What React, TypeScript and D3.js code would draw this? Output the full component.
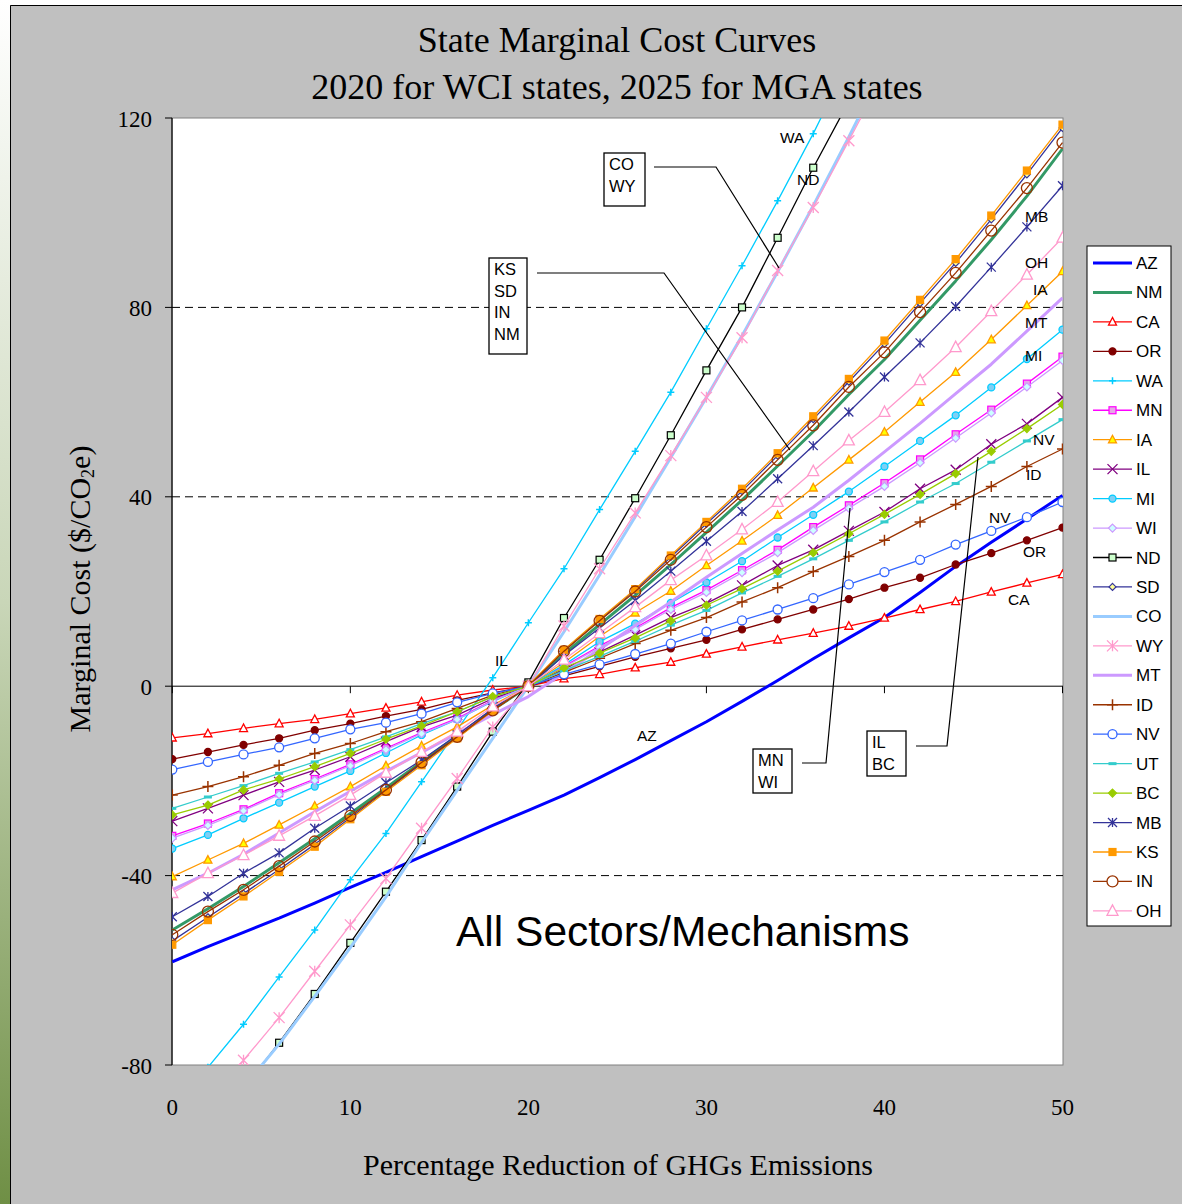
import React from "react";
import * as d3 from "d3";

// percentage reduction of GHG emissions (x categories)
const reduction = [0, 2, 4, 6, 8, 10, 12, 14, 16, 18, 20, 22, 24, 26, 28, 30, 32, 34, 36, 38, 40, 42, 44, 46, 48, 50];

// marginal cost by state, $/tCO2e (null = off the chart)
const AZ = [-58.2, -55, -52, -49, -45.8, -42.5, -39.3, -36, -32.7, -29.4, -26.2, -23, -19.3, -15.5, -11.5, -7.5, -3.2, 1.2, 5.8, 10.2, 14.5, 19.8, 25.3, 30.4, 35.3, 40.3];
const NM = [-51.5, -47, -42.3, -37.3, -32.2, -26.9, -21.5, -16, -10.5, -5, 0, 6.8, 13, 19.2, 25.7, 32.5, 39.3, 46.5, 53.8, 61.6, 69, 77.3, 85.6, 94.3, 103.5, 113.5];
const CA = [-10.9, -10, -8.9, -7.9, -7, -5.8, -4.6, -3.3, -1.9, -0.8, 0, 1.6, 2.5, 3.9, 5.1, 6.8, 8.3, 9.8, 11.2, 12.7, 14.4, 16.2, 17.9, 19.9, 21.8, 23.6];
const OR = [-15.4, -13.9, -12.4, -11, -9.3, -7.9, -6.3, -4.9, -3, -1.4, 0, 2.2, 4.2, 6.2, 8, 9.8, 12, 14.1, 16.2, 18.4, 20.8, 22.9, 25.7, 28.1, 30.8, 33.5];
const WA = [-90, -80.5, -71.4, -61.4, -51.5, -40.9, -31.1, -20.2, -9.3, 1.8, 13.4, 24.8, 37.3, 49.6, 62.1, 75.5, 88.8, 102.5, 116.7, 132, null, null, null, null, null, null];
const MN = [-31.6, -29, -26, -22.6, -19.6, -16.5, -13.1, -9.8, -6.8, -3, 0, 4.2, 8.5, 12.3, 16.6, 20.3, 24.5, 28.8, 33.6, 38.2, 42.9, 47.9, 53.2, 58.4, 63.9, 69.6];
const IA = [-40.2, -36.7, -33.2, -29.3, -25.3, -21.2, -16.8, -12.6, -8.6, -4, 0, 5, 10.5, 15.5, 20.1, 25.5, 30.7, 36.1, 41.9, 47.8, 53.7, 60, 66.3, 73.2, 80.4, 87.6];
const IL = [-28.5, -25.8, -23, -20.2, -17.7, -14.9, -11.7, -8.6, -6.1, -2.6, 0, 3.6, 7.2, 10.8, 14.5, 17.5, 21.3, 25.5, 28.8, 32.8, 36.8, 41.7, 45.7, 51.1, 55.4, 61];
const MI = [-34.3, -31.4, -27.9, -24.6, -21.2, -17.9, -14.1, -10.3, -7, -3.2, 0, 4.5, 9.4, 13.2, 17.6, 21.9, 26.4, 31.4, 36.2, 41.1, 46.4, 51.8, 57.2, 63.1, 69.1, 75.3];
const WI = [-32.1, -29.4, -26.3, -22.9, -19.9, -16.8, -13.4, -10, -7, -3.1, 0, 4, 8.2, 12, 16.2, 19.8, 24, 28.2, 32.9, 37.6, 42.2, 47.2, 52.4, 57.7, 63.2, 68.8];
const ND = [null, null, -85, -75.3, -65, -54.2, -43.4, -32.5, -21.2, -9.6, 0.8, 14.4, 26.7, 39.7, 53, 66.7, 80, 94.7, 109.5, 123.5, null, null, null, null, null, null];
const SD = [-53.8, -48.8, -43.8, -38.7, -33.4, -27.8, -22.1, -16.4, -10.9, -5.1, 0, 7.6, 14, 20.3, 27.3, 34.3, 41.2, 48.7, 56.4, 64.3, 72.3, 80.9, 89.4, 98.6, 108.1, 117.9];
const CO = [null, null, -84.7, -75.6, -65.5, -55.2, -44.5, -33, -22, -11, 0, 11.5, 23.5, 35.8, 48.3, 61, 74, 87.5, 101.5, 116, 131, null, null, null, null, null];
const WY = [null, -89, -79, -70, -60.2, -50.4, -40.6, -30, -19.5, -8.6, 0, 12.7, 24.8, 36.6, 48.7, 61, 73.6, 87.8, 101.1, 115.2, 129.5, null, null, null, null, null];
const MT = [-43, -39.5, -35.5, -31, -26.5, -22.2, -18, -14, -10, -6, -2.2, 2.8, 7.8, 12.8, 17.8, 23, 28, 33, 37.8, 43.5, 49.5, 55.5, 61.8, 68, 75, 82];
const ID = [-23, -21.2, -19.1, -16.7, -14.2, -12.1, -9.6, -7.5, -4.7, -1.9, 0, 2.9, 5.9, 9, 11.8, 14.5, 17.8, 20.8, 24.2, 27.4, 30.8, 34.7, 38.4, 42.2, 46.4, 50.1];
const NV = [-17.6, -16, -14.4, -12.9, -11, -9.1, -7.7, -5.8, -3.4, -1.5, 0, 2.5, 4.6, 6.8, 9, 11.5, 13.9, 16.2, 18.6, 21.5, 24.1, 26.7, 29.9, 32.8, 35.7, 38.9];
const UT = [-25.8, -23.4, -21, -18.4, -16, -13.4, -10.7, -7.9, -5.4, -2.2, 0, 3.3, 6.3, 9.5, 12.9, 16, 19.7, 23.2, 26.9, 30.8, 34.7, 38.9, 42.8, 47.3, 51.8, 56.3];
const BC = [-27.2, -25.1, -21.9, -19.6, -17, -14.2, -11.2, -8.4, -5.4, -2.2, 0, 3.9, 7, 10.2, 13.8, 17.1, 20.6, 24.3, 28.2, 32.2, 36.3, 40.5, 44.9, 49.6, 54.4, 59.5];
const MB = [-48.7, -44.4, -39.5, -35.2, -30, -25.3, -20.4, -15.6, -10.3, -4.7, 0, 6.5, 12.3, 18.1, 24.3, 30.6, 36.9, 43.8, 50.8, 57.9, 65.3, 72.5, 80.2, 88.5, 97, 105.7];
const KS = [-54.6, -49.4, -44.4, -39.2, -33.9, -28.1, -22.3, -16.7, -11, -5.2, 0.2, 7.7, 14.2, 20.5, 27.6, 34.7, 41.7, 49.2, 57, 64.9, 73, 81.6, 90.2, 99.4, 108.9, 118.6];
const IN = [-52.5, -47.6, -43, -38, -32.8, -27.4, -21.9, -16.1, -10.7, -5.1, 0, 7.4, 13.8, 20, 26.7, 33.6, 40.4, 47.8, 55.1, 63.2, 70.5, 79, 87.3, 96.2, 105.2, 114.8];
const OH = [-43.7, -39.5, -35.7, -31.6, -27.4, -23, -18.3, -13.9, -9.6, -4.3, 0, 5.6, 11.2, 16.7, 22.4, 27.6, 33.1, 38.9, 45.4, 51.9, 57.9, 64.6, 71.6, 79.2, 86.9, 94.7];

const yTicks = [-80, -40, 0, 40, 80, 120];
const xTicks = [0, 10, 20, 30, 40, 50];
const dashedAt = [-40, 40, 80];

type Kind = "none" | "triangle" | "circle" | "square" | "diamond" | "x" | "plus" | "star" | "dash";
type Series = { name: string; values: (number | null)[]; color: string; width: number; marker: Kind; fill?: string; size?: number };

const series: Series[] = [
  { name: "AZ", values: AZ, color: "#0000FF", width: 3, marker: "none" },
  { name: "NM", values: NM, color: "#339966", width: 3, marker: "none" },
  { name: "CA", values: CA, color: "#FF0000", width: 1.3, marker: "triangle", fill: "#FFFFFF", size: 8 },
  { name: "OR", values: OR, color: "#800000", width: 1.3, marker: "circle", fill: "#800000", size: 7 },
  { name: "WA", values: WA, color: "#00CCFF", width: 1.3, marker: "plus", size: 7 },
  { name: "MN", values: MN, color: "#FF00FF", width: 1.3, marker: "square", fill: "#E6A6E6", size: 7 },
  { name: "IA", values: IA, color: "#FF9900", width: 1.3, marker: "triangle", fill: "#FFFF00", size: 8 },
  { name: "IL", values: IL, color: "#800080", width: 1.3, marker: "x", size: 10 },
  { name: "MI", values: MI, color: "#00CCFF", width: 1.3, marker: "circle", fill: "#7FD0F5", size: 7 },
  { name: "WI", values: WI, color: "#CC99FF", width: 1.3, marker: "diamond", fill: "#CCFFFF", size: 8 },
  { name: "ND", values: ND, color: "#000000", width: 1.3, marker: "square", fill: "#CCFFCC", size: 7 },
  { name: "SD", values: SD, color: "#333399", width: 1.3, marker: "diamond", fill: "#FFFF99", size: 7 },
  { name: "CO", values: CO, color: "#99CCFF", width: 3, marker: "none" },
  { name: "WY", values: WY, color: "#FF99CC", width: 1.3, marker: "star", size: 11 },
  { name: "MT", values: MT, color: "#CC99FF", width: 3, marker: "none" },
  { name: "ID", values: ID, color: "#993300", width: 1.3, marker: "plus", size: 11 },
  { name: "NV", values: NV, color: "#3366FF", width: 1.3, marker: "circle", fill: "#FFFFFF", size: 9 },
  { name: "UT", values: UT, color: "#33CCCC", width: 1.3, marker: "dash", size: 8 },
  { name: "BC", values: BC, color: "#99CC00", width: 1.3, marker: "diamond", fill: "#99CC00", size: 8 },
  { name: "MB", values: MB, color: "#333399", width: 1.3, marker: "star", size: 9 },
  { name: "KS", values: KS, color: "#FF9900", width: 1.3, marker: "square", fill: "#FF9900", size: 7 },
  { name: "IN", values: IN, color: "#993300", width: 1.3, marker: "circle", fill: "none", size: 11 },
  { name: "OH", values: OH, color: "#FF99CC", width: 1.3, marker: "triangle", fill: "#FFFFFF", size: 11 },
];

// free labels inside the plot: [text, x, y]
const curveLabels: [string, number, number][] = [
  ["WA", 780, 143], ["ND", 797, 185], ["MB", 1025, 222], ["OH", 1025, 268], ["IA", 1033, 295],
  ["MT", 1025, 328], ["MI", 1025, 361], ["NV", 1033, 445], ["ID", 1026, 480], ["NV", 989, 523],
  ["OR", 1023, 557], ["CA", 1008, 605], ["IL", 495, 666], ["AZ", 637, 741],
];

// annotation boxes: lines of text, box rect, leader polyline
const callouts = [
  { lines: ["CO", "WY"], box: [604, 153, 41, 53], leader: [[654, 167], [716, 167], [779, 268]] },
  { lines: ["KS", "SD", "IN", "NM"], box: [489, 258, 38, 96], leader: [[537, 273], [664, 273], [790, 450]] },
  { lines: ["MN", "WI"], box: [753, 749, 39, 44], leader: [[802, 763], [826, 763], [850, 508]] },
  { lines: ["IL", "BC"], box: [867, 731, 39, 45], leader: [[916, 746], [947, 746], [978, 457]] },
];

function Marker({ kind, cx, cy, s, stroke, fill }: { kind: Kind; cx: number; cy: number; s: number; stroke: string; fill?: string }) {
  const h = s / 2;
  const f = fill ?? "none";
  switch (kind) {
    case "triangle":
      return <polygon points={`${cx},${cy - h * 1.1} ${cx - h},${cy + h * 0.8} ${cx + h},${cy + h * 0.8}`} fill={f} stroke={stroke} strokeWidth={1.3} />;
    case "circle":
      return <circle cx={cx} cy={cy} r={h} fill={f} stroke={stroke} strokeWidth={1.3} />;
    case "square":
      return <rect x={cx - h} y={cy - h} width={s} height={s} fill={f} stroke={stroke} strokeWidth={1.2} />;
    case "diamond":
      return <polygon points={`${cx},${cy - h} ${cx + h},${cy} ${cx},${cy + h} ${cx - h},${cy}`} fill={f} stroke={stroke} strokeWidth={1.2} />;
    case "x":
      return <path d={`M${cx - h},${cy - h}L${cx + h},${cy + h}M${cx - h},${cy + h}L${cx + h},${cy - h}`} stroke={stroke} strokeWidth={1.3} />;
    case "plus":
      return <path d={`M${cx - h},${cy}L${cx + h},${cy}M${cx},${cy - h}L${cx},${cy + h}`} stroke={stroke} strokeWidth={1.5} />;
    case "star":
      return <path d={`M${cx - h},${cy - h}L${cx + h},${cy + h}M${cx - h},${cy + h}L${cx + h},${cy - h}M${cx},${cy - h}L${cx},${cy + h}`} stroke={stroke} strokeWidth={1.3} />;
    case "dash":
      return <rect x={cx - h} y={cy - 1.5} width={s} height={3} fill={stroke} />;
    default:
      return null;
  }
}

export default function App() {
  const W = 1182;
  const H = 1204;
  const left = 172, right = 1063, top = 118, bottom = 1065;

  const x = d3.scaleLinear().domain([0, 50]).range([172.3, 1062.5]);
  const y = d3.scaleLinear().domain([-80, 120]).range([bottom, top]);

  const line = d3.line<number | null>()
    .defined(d => d != null)
    .x((_, i) => x(reduction[i]))
    .y(d => y(d as number));

  const serif = "'Liberation Serif', 'Times New Roman', serif";
  const sans = "'Liberation Sans', Arial, sans-serif";

  const legendX = 1087, legendY = 246, legendW = 84, legendH = 680, legendStep = 29.45;

  return (
    <svg width={W} height={H} style={{ position: "absolute", left: 0, top: 0 }} xmlns="http://www.w3.org/2000/svg">
      <defs>
        <linearGradient id="slideEdge" x1="0" y1="0" x2="0" y2="1">
          <stop offset="0" stopColor="#ffffff" />
          <stop offset="0.5" stopColor="#c9d6b8" />
          <stop offset="1" stopColor="#6f8f45" />
        </linearGradient>
        <clipPath id="plotClip">
          <rect x={left} y={top} width={right - left} height={bottom - top} />
        </clipPath>
      </defs>

      {/* slide + chart background */}
      <rect x={0} y={0} width={W} height={H} fill="#ffffff" />
      <rect x={0} y={0} width={10} height={H} fill="url(#slideEdge)" />
      <rect x={10} y={5} width={W - 10} height={H - 5} fill="#C0C0C0" />
      <path d={`M10.5,${H}V5.5H${W}`} fill="none" stroke="#000" strokeWidth={1} />

      {/* title */}
      <text x={617} y={52} textAnchor="middle" fontFamily={serif} fontSize={36}>State Marginal Cost Curves</text>
      <text x={617} y={99} textAnchor="middle" fontFamily={serif} fontSize={36}>2020 for WCI states, 2025 for MGA states</text>

      {/* plot area */}
      <rect x={left} y={top} width={right - left} height={bottom - top} fill="#FFFFFF" stroke="#808080" strokeWidth={1} />
      {dashedAt.map(v => (
        <line key={v} x1={left} x2={right} y1={y(v)} y2={y(v)} stroke="#000" strokeWidth={1} strokeDasharray="8,5" />
      ))}
      <line x1={left} x2={right} y1={y(0)} y2={y(0)} stroke="#000" strokeWidth={1} />
      {xTicks.map(t => (
        <line key={t} x1={x(t)} x2={x(t)} y1={y(0)} y2={y(0) + 7} stroke="#000" strokeWidth={1} />
      ))}
      <line x1={left} x2={left} y1={top} y2={bottom} stroke="#000" strokeWidth={1.2} />
      {yTicks.map(t => (
        <line key={t} x1={left - 7} x2={left} y1={y(t)} y2={y(t)} stroke="#000" strokeWidth={1} />
      ))}

      {/* series */}
      <g clipPath="url(#plotClip)">
        {series.map(s => (
          <g key={s.name}>
            <path d={line(s.values) ?? ""} fill="none" stroke={s.color} strokeWidth={s.width} strokeLinejoin="round" />
            {s.marker !== "none" && s.values.map((v, i) => v == null ? null : (
              <Marker key={i} kind={s.marker} cx={x(reduction[i])} cy={y(v)} s={s.size ?? 7} stroke={s.color} fill={s.fill} />
            ))}
          </g>
        ))}
      </g>

      {/* curve labels */}
      {curveLabels.map(([t, lx, ly], i) => (
        <text key={i} x={lx} y={ly} fontFamily={sans} fontSize={15.5} fill="#000">{t}</text>
      ))}

      {/* callouts */}
      {callouts.map((c, i) => (
        <g key={i}>
          <polyline points={c.leader.map(p => p.join(",")).join(" ")} fill="none" stroke="#000" strokeWidth={1.2} />
          <rect x={c.box[0]} y={c.box[1]} width={c.box[2]} height={c.box[3]} fill="#FFFFFF" stroke="#000" strokeWidth={1.3} />
          {c.lines.map((t, j) => (
            <text key={j} x={c.box[0] + 5} y={c.box[1] + 17 + j * 21.5} fontFamily={sans} fontSize={16.5}>{t}</text>
          ))}
        </g>
      ))}

      <text x={456} y={946} fontFamily={sans} fontSize={42.5}>All Sectors/Mechanisms</text>

      {/* axis labels */}
      {yTicks.map(t => (
        <text key={t} x={152} y={y(t) + 8.5} textAnchor="end" fontFamily={serif} fontSize={23}>{t}</text>
      ))}
      {xTicks.map(t => (
        <text key={t} x={x(t)} y={1115} textAnchor="middle" fontFamily={serif} fontSize={23}>{t}</text>
      ))}
      <text x={618} y={1175} textAnchor="middle" fontFamily={serif} fontSize={30}>Percentage Reduction of GHGs Emissions</text>
      <text transform="translate(90,589) rotate(-90)" textAnchor="middle" fontFamily={serif} fontSize={30}>
        Marginal Cost ($/CO<tspan fontSize={18} dy={4}>2</tspan><tspan dy={-4}>e)</tspan>
      </text>

      {/* legend */}
      <rect x={legendX} y={legendY} width={legendW} height={legendH} fill="#FFFFFF" stroke="#000" strokeWidth={1} />
      {series.map((s, i) => {
        const ly = 263 + i * legendStep;
        return (
          <g key={s.name}>
            <line x1={1093} x2={1132} y1={ly} y2={ly} stroke={s.color} strokeWidth={s.width} />
            {s.marker !== "none" && <Marker kind={s.marker} cx={1112.5} cy={ly} s={s.size ?? 7} stroke={s.color} fill={s.fill === "none" ? "#FFFFFF" : s.fill} />}
            <text x={1136} y={ly + 6} fontFamily={sans} fontSize={17}>{s.name}</text>
          </g>
        );
      })}
    </svg>
  );
}
